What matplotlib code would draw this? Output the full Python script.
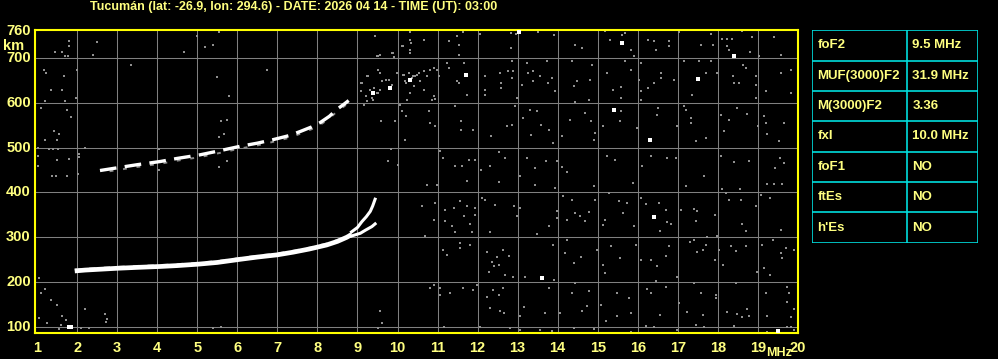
import matplotlib
matplotlib.use("Agg")
import matplotlib.pyplot as plt
import numpy as np

# ionogram header / parameters
title = "Tucumán (lat: -26.9, lon: 294.6) - DATE: 2026 04 14 - TIME (UT): 03:00"
param_names = ["foF2", "MUF(3000)F2", "M(3000)F2", "fxI", "foF1", "ftEs", "h'Es"]
param_values = ["9.5 MHz", "31.9 MHz", "3.36", "10.0 MHz", "NO", "NO", "NO"]

# F-layer trace (freq MHz, virtual height km)
f_trace_f = [1.94, 2.2, 2.6, 3.0, 3.5, 4.07, 4.5, 5.0, 5.5, 6.07, 6.5, 7.0, 7.4, 7.8, 8.23, 8.5, 8.73, 8.85]
f_trace_h = [225, 227, 229, 231, 233, 235, 237, 240, 244, 251, 256, 261, 267, 274, 283, 291, 300, 306]
o_branch_f = [8.85, 9.0, 9.11, 9.22, 9.32, 9.38, 9.44]
o_branch_h = [312, 322, 335, 346, 358, 370, 385]
x_branch_f = [8.85, 9.07, 9.2, 9.36, 9.44]
x_branch_h = [303, 309, 316, 324, 330]

# second hop trace
hop2_f = [2.57, 3.0, 3.5, 4.07, 4.5, 5.07, 5.5, 6.07, 6.5, 6.9, 7.3, 7.57, 7.85, 8.07, 8.3, 8.48, 8.65, 8.78]
hop2_h = [449, 455, 462, 469, 476, 484, 492, 503, 510, 518, 527, 536, 546, 556, 570, 585, 596, 605]

# bright isolated echoes
bright_f = [9.82, 11.7, 13.04, 15.6, 18.4, 17.5, 15.4, 16.3, 16.4, 13.6, 19.5, 1.8, 1.85, 10.3, 9.4]
bright_h = [632, 663, 757, 733, 705, 652, 585, 518, 345, 209, 92, 100, 100, 650, 622]

# gray noise echoes, read in zoom pixel units of three regions
noise_a = [  # region f 10.57.., h 763..
    (12, 30), (110, 20), (128, 8), (117, 45), (85, 35), (178, 12), (272, 10), (272, 55), (287, 12), (352, 8),
    (400, 15), (440, 2), (465, 45), (485, 55), (555, 5), (605, 15), (615, 10), (632, 60), (570, 30), (640, 80),
    (680, 2), (683, 30), (700, 35), (745, 35), (745, 48), (705, 62), (775, 8), (830, 2), (870, 12), (878, 45),
    (840, 45), (905, 28), (920, 28), (935, 28), (920, 50), (925, 62), (965, 5), (995, 22), (987, 68), (1060, 22),
    (1082, 75), (1015, 78), (80, 100), (40, 115), (10, 125), (130, 100), (110, 155), (140, 195), (45, 208),
    (195, 140), (195, 180), (195, 197), (240, 130), (242, 160), (243, 175), (275, 95), (275, 145), (262, 125),
    (278, 125), (290, 205), (305, 165), (320, 100), (323, 130), (338, 125), (338, 155), (360, 140), (380, 95),
    (382, 160), (395, 145), (405, 185), (455, 95), (460, 170), (470, 155), (515, 105), (510, 150), (507, 210),
    (560, 130), (578, 180), (603, 172), (603, 205), (615, 95), (630, 120), (660, 100), (655, 150), (660, 185),
    (660, 210), (682, 175), (700, 160), (722, 130), (722, 145), (760, 150), (790, 95), (815, 195), (835, 95),
    (855, 130), (870, 95), (890, 130), (938, 140), (940, 160), (955, 160), (968, 105), (975, 115), (1005, 140),
    (1005, 165), (1005, 205), (1035, 185), (1080, 130), (1112, 120), (1112, 190), (25, 245), (30, 280), (45, 290),
    (105, 228), (122, 275), (122, 300), (158, 300), (212, 320), (260, 290), (275, 285), (285, 228), (308, 265),
    (328, 240), (333, 315), (350, 245), (362, 285), (385, 300), (398, 340), (425, 320), (448, 270), (465, 218),
    (495, 250), (512, 275), (520, 330), (523, 310), (548, 290), (598, 275), (602, 245), (648, 295), (710, 255),
    (713, 235), (770, 290), (790, 228), (797, 240), (810, 265), (812, 280), (827, 335), (855, 325), (900, 255),
    (910, 305), (925, 270), (950, 235), (980, 253), (1012, 288), (1030, 258), (1035, 280), (1040, 312),
    (1075, 335), (1090, 280), (60, 365), (68, 385), (105, 408), (125, 410), (145, 390), (165, 390), (182, 420),
    (210, 408), (237, 368), (255, 385), (300, 440), (320, 385), (345, 415), (378, 395), (410, 395), (425, 412),
    (440, 428), (560, 380), (585, 390), (663, 408), (690, 378), (740, 385), (765, 385), (850, 440), (900, 378),
    (940, 398), (985, 395), (1078, 385), (1090, 400), (1062, 415),
]
noise_b = [  # region f 10.57.., h 428..
    (20, 15), (50, 15), (140, 5), (237, 8), (345, 15), (405, 25), (520, 20), (638, 10), (795, 20), (903, 28),
    (958, 28), (1040, 12), (1060, 12), (1085, 12), (5, 80), (45, 70), (75, 92), (100, 85), (120, 65), (140, 80),
    (165, 85), (165, 105), (130, 108), (40, 120), (75, 125), (95, 140), (105, 158), (148, 132), (155, 158),
    (185, 55), (195, 60), (225, 75), (280, 80), (300, 85), (290, 110), (210, 158), (350, 162), (385, 140),
    (410, 95), (410, 115), (428, 50), (440, 122), (455, 60), (465, 100), (478, 108), (495, 125), (505, 98),
    (525, 62), (548, 135), (555, 120), (565, 40), (597, 65), (608, 100), (620, 70), (640, 140), (662, 55),
    (675, 72), (716, 70), (718, 155), (735, 92), (738, 128), (750, 132), (782, 92), (820, 88), (830, 95),
    (825, 125), (860, 172), (882, 105), (888, 170), (915, 40), (925, 62), (960, 62), (963, 132), (975, 155),
    (1005, 80), (1020, 45), (1048, 55), (1082, 152), (15, 168), (68, 210), (80, 225), (118, 205), (120, 190),
    (148, 195), (200, 218), (222, 258), (230, 232), (248, 210), (265, 230), (215, 248), (205, 275), (235, 255),
    (255, 285), (278, 292), (315, 292), (398, 195), (440, 182), (435, 220), (460, 250), (482, 232), (530, 210),
    (548, 255), (555, 280), (573, 200), (598, 235), (645, 195), (662, 242), (690, 242), (708, 258), (705, 302),
    (735, 230), (745, 200), (770, 290), (808, 188), (820, 182), (830, 218), (848, 212), (855, 195), (882, 240),
    (895, 212), (908, 255), (930, 200), (945, 215), (975, 200), (1010, 275), (1025, 195), (1030, 265),
    (1048, 285), (1058, 182), (1080, 220), (1085, 235), (1095, 205), (1120, 210), (30, 325), (40, 315), (58, 325),
    (60, 345), (90, 340), (128, 325), (158, 330), (170, 315), (200, 350), (218, 330), (235, 345), (248, 325),
    (210, 385), (240, 392), (250, 400), (298, 408), (310, 380), (375, 400), (385, 325), (400, 300), (420, 400),
    (455, 340), (463, 310), (485, 392), (500, 378), (505, 332), (542, 375), (558, 422), (590, 340), (590, 408),
    (625, 355), (630, 400), (675, 438), (680, 328), (692, 340), (717, 405), (735, 320), (775, 368), (800, 395),
    (820, 310), (842, 340), (848, 405), (885, 345), (885, 355), (920, 395), (945, 310), (950, 402), (963, 412),
    (980, 388), (985, 408), (1035, 340), (1040, 408), (1100, 320), (1105, 340), (1100, 365), (1110, 410),
    (1120, 388), (1110, 440), (70, 440), (180, 440), (270, 445), (300, 450), (360, 450), (395, 452), (460, 445),
    (520, 448), (630, 455), (700, 440), (770, 450), (825, 435), (850, 440), (940, 438), (1040, 455), (1100, 440),
    (1120, 450),
]
noise_c = [  # region f 0.97.., h 763..
    (98, 35), (100, 50), (57, 68), (80, 68), (95, 78), (88, 80), (182, 38), (170, 75), (285, 107), (445, 68),
    (482, 20), (508, 52), (530, 45), (548, 8), (25, 120), (32, 130), (85, 138), (122, 120), (45, 180), (80, 180),
    (120, 205), (28, 215), (88, 215), (15, 235), (92, 240), (105, 262), (543, 143), (578, 200), (693, 120),
    (555, 275), (572, 270), (548, 323), (565, 312), (55, 305), (70, 312), (28, 330), (65, 330), (40, 358),
    (52, 358), (68, 358), (128, 372), (130, 383), (8, 355), (8, 380), (148, 355), (63, 390), (100, 388), (8, 410),
    (50, 438), (62, 438), (92, 438), (125, 432), (368, 358), (368, 420), (548, 412), (572, 395), (1015, 20),
    (1025, 78), (1070, 70), (1100, 48), (1120, 8), (1120, 30), (1120, 60), (995, 140), (975, 160), (975, 185),
    (990, 200), (1000, 180), (1010, 210), (1030, 130), (1025, 190), (1050, 150), (1065, 175), (1100, 135),
    (1110, 160), (1130, 140), (1090, 225), (1110, 258), (1105, 330), (1065, 358), (1055, 395), (1085, 405),
    (1035, 275), (1075, 275),
]
noise_d = [  # spread cluster, f 8.32.., h 741..
    (140, 50), (150, 45), (185, 40), (190, 52), (143, 92), (150, 100), (110, 108), (95, 130), (130, 145),
    (150, 150), (140, 160), (155, 125), (175, 120), (185, 135), (200, 100), (215, 18), (220, 105), (225, 125),
    (235, 100), (240, 120), (245, 115), (255, 110), (260, 105), (265, 100), (250, 140), (240, 160), (230, 180),
    (270, 125), (280, 150), (290, 110), (300, 90), (305, 180), (310, 170), (320, 90), (325, 110), (350, 70),
    (355, 85), (385, 45), (400, 70), (385, 130), (410, 165), (210, 195), (215, 215), (240, 40), (243, 10),
    (100, 195), (110, 185), (125, 175),
]
# lower-left corner echoes (f, h)
noise_e = [(1.05, 120), (1.25, 110), (1.6, 105), (1.62, 125), (1.55, 95), (1.72, 115), (2.1, 98), (2.3, 98),
           (2.7, 128), (2.75, 118), (2.72, 112), (5.4, 98), (5.6, 100), (9.55, 135), (9.62, 110), (9.5, 98),
           (1.1, 175), (1.2, 185), (1.35, 160), (1.05, 210), (1.5, 150), (2.2, 140)]

origins = [(10.5675, 763.2), (10.5675, 428.4), (0.9675, 763.2), (8.3175, 740.8)]
noise_f, noise_h = [], []
for pts, (f0, h0) in zip([noise_a, noise_b, noise_c, noise_d], origins):
    for X, Y in pts:
        noise_f.append(f0 + X / 120.0)
        noise_h.append(h0 - Y * 0.744)
for f, h in noise_e:
    noise_f.append(f)
    noise_h.append(h)

yellow = "#ffff00"
txt = "#ffff80"
font = "Liberation Sans"
W, H = 998, 359

fig = plt.figure(figsize=(W / 100, H / 100), dpi=100, facecolor="black")
ax = fig.add_axes([35.3 / W, 1 - 333.3 / H, (798 - 35.3) / W, (333.3 - 29.7) / H], facecolor="black")
ax.set_xlim(0.955, 20.0)
ax.set_ylim(86, 763)

for f in range(2, 20):
    ax.axvline(f, color="#808080", lw=0.75, zorder=1)
for h in range(100, 800, 100):
    ax.axhline(h, color="#808080", lw=0.75, zorder=1)

ax.plot(noise_f, noise_h, ls="none", marker="s", ms=2.1, mew=0, color="#909090", zorder=2)
ax.plot(f_trace_f, np.array(f_trace_h) + 3, color="#9a9a9a", lw=1.5, ls=(0, (3, 4)), zorder=2)
ax.plot(f_trace_f, f_trace_h, color="white", lw=3.4, solid_capstyle="butt", zorder=3)
ax.plot(o_branch_f, o_branch_h, color="white", lw=2.2, zorder=3)
ax.plot(x_branch_f, x_branch_h, color="white", lw=2.2, zorder=3)
ax.plot(hop2_f, hop2_h, color="white", lw=2.4, ls=(0, (5, 2.5)), zorder=3)
ax.plot(hop2_f, np.array(hop2_h) - 5, color="#8a8a8a", lw=1.4, ls=(2, (2, 5)), zorder=2)
ax.plot(bright_f, bright_h, ls="none", marker="s", ms=2.2, mew=0, color="white", zorder=3)

for s in ax.spines.values():
    s.set_color(yellow)
    s.set_linewidth(1.5)
ax.set_xticks([])
ax.set_yticks([])

fnt = dict(color=txt, fontsize=10.5, fontweight="bold", family=font)
for f in range(1, 21):
    ax.text(f, -0.025, str(f), transform=ax.get_xaxis_transform(), ha="center", va="top", **fnt)
for h in [100, 200, 300, 400, 500, 600, 700, 760]:
    ax.text(-0.006, h, str(h), transform=ax.get_yaxis_transform(), ha="right", va="center", **fnt)
fig.text(14 / W, 1 - 45.5 / H, "km", ha="center", va="center", **fnt)
fig.text(779 / W, 1 - 353 / H, "MHz", ha="center", va="center", color=txt, fontsize=9,
         fontweight="bold", family=font)
fig.text(294 / W, 1 - 7 / H, title, ha="center", va="center", color=txt, fontsize=9,
         fontweight="bold", family=font)

# parameter table
tx0, tx1, tdiv = 812.3, 977.7, 907.3
ty0, ty1 = 30.3, 242.7
tab = fig.add_axes([tx0 / W, 1 - ty1 / H, (tx1 - tx0) / W, (ty1 - ty0) / H])
tab.set_xlim(tx0, tx1)
tab.set_ylim(ty1, ty0)
tab.axis("off")
n = len(param_names)
rows = np.linspace(ty0, ty1, n + 1)
cyan = "#00dede"
for y in rows:
    tab.plot([tx0, tx1], [y, y], color=cyan, lw=1.2)
for x in [tx0, tdiv, tx1]:
    tab.plot([x, x], [ty0, ty1], color=cyan, lw=1.2)
for i in range(n):
    yc = (rows[i] + rows[i + 1]) / 2
    tab.text(tx0 + 5, yc, param_names[i], ha="left", va="center", color=txt, fontsize=9.5,
             fontweight="bold", family=font)
    tab.text(tdiv + 5, yc, param_values[i], ha="left", va="center", color=txt, fontsize=9.5,
             fontweight="bold", family=font)

fig.savefig("out.png", dpi=100, facecolor="black")
